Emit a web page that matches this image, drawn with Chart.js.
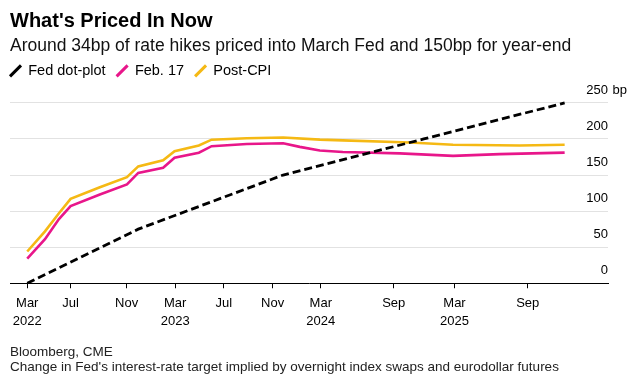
<!DOCTYPE html>
<html>
<head>
<meta charset="utf-8">
<script src="https://cdn.jsdelivr.net/npm/chart.js@4.4.1/dist/chart.umd.min.js"></script>
<style>
  html, body { margin: 0; padding: 0; background: #ffffff; }
  #wrap { width: 640px; height: 385px; }
  canvas { display: block; }
</style>
</head>
<body>
<div id="wrap"><canvas id="c" width="640" height="385"></canvas></div>
<script>
// ---- Data (x = months after Mar 2022) ----
const xTickPositions = [0, 3.57, 8.18, 12.18, 16.19, 20.2, 24.17, 30.18, 35.18, 41.21];
const xTickLabels = [["Mar", "2022"], ["Jul"], ["Nov"], ["Mar", "2023"], ["Jul"], ["Nov"], ["Mar", "2024"], ["Sep"], ["Mar", "2025"], ["Sep"]];
const yTickValues = [0, 50, 100, 150, 200, 250];

const seriesNames = ["Fed dot-plot", "Feb. 17", "Post-CPI"];

const dotPlotX = [0, 9.14, 21.07, 32.65, 44.25];
const dotPlotY = [0, 75, 150, 200, 250];

const feb17X = [0, 1.46, 2.61, 3.57, 5.98, 8.21, 9.14, 11.19, 12.13, 14.13, 15.18, 18.08, 21.07, 22.44, 24.09, 25.98, 30.67, 35.06, 38.9, 44.25];
const feb17Y = [34, 61, 89, 107, 123, 137, 153, 160, 174, 181, 190, 193, 194, 189, 184, 182, 180, 176.5, 179, 181];

const postCpiX = [0, 1.46, 2.61, 3.57, 5.98, 8.21, 9.14, 11.19, 12.13, 14.13, 15.18, 18.08, 21.07, 24.09, 25.98, 31.5, 35.06, 40.54, 44.25];
const postCpiY = [44, 72, 97, 117, 133, 147, 162, 170.5, 183, 191, 199, 201, 202, 199, 198, 195, 192, 191, 192];

const title = "What's Priced In Now";
const subtitle = "Around 34bp of rate hikes priced into March Fed and 150bp for year-end";
const footerLines = ["Bloomberg, CME", "Change in Fed's interest-rate target implied by overnight index swaps and eurodollar futures"];
const unitSuffix = " bp";

// ---- Styles ----
const FONT = "'Liberation Sans', Arial, Helvetica, sans-serif";
const colors = ["#000000", "#e8168a", "#f5b914"];

function pts(xs, ys) { return xs.map((x, i) => ({ x: x, y: ys[i] })); }

const footerPlugin = {
  id: 'footerAndUnit',
  afterLayout(chart) {
    // align first legend item with the left text margin
    const lg = chart.legend;
    if (lg) { lg.left -= lg.options.labels.padding; }
  },
  afterDraw(chart) {
    const ctx = chart.ctx;
    ctx.save();
    // unit suffix after the top y tick label
    const ys = chart.scales.y;
    const yPix = ys.getPixelForValue(yTickValues[yTickValues.length - 1]) + ys.options.ticks.labelOffset;
    ctx.font = "13px " + FONT;
    ctx.fillStyle = "#000";
    ctx.textAlign = "left";
    ctx.textBaseline = "middle";
    ctx.fillText(unitSuffix, ys.left + 1, yPix);
    // footer
    ctx.font = "13.5px " + FONT;
    ctx.fillStyle = "#222";
    ctx.textBaseline = "alphabetic";
    ctx.fillText(footerLines[0], 10, 355.7);
    ctx.fillText(footerLines[1], 10, 370.7);
    ctx.restore();
  }
};

new Chart(document.getElementById('c'), {
  type: 'line',
  data: {
    datasets: [
      { label: seriesNames[0], data: pts(dotPlotX, dotPlotY), borderColor: colors[0], borderWidth: 2.8, borderDash: [8, 4], pointRadius: 0, tension: 0, fill: false },
      { label: seriesNames[1], data: pts(feb17X, feb17Y), borderColor: colors[1], borderWidth: 2.6, pointRadius: 0, tension: 0, fill: false },
      { label: seriesNames[2], data: pts(postCpiX, postCpiY), borderColor: colors[2], borderWidth: 2.6, pointRadius: 0, tension: 0, fill: false }
    ]
  },
  options: {
    responsive: false,
    animation: false,
    devicePixelRatio: 1,
    layout: { padding: { left: 10, right: 32, top: 0, bottom: 48.5 } },
    plugins: {
      title: {
        display: true, text: title, align: 'start', color: '#000',
        font: { family: FONT, size: 20, weight: 'bold', lineHeight: 1.2 },
        padding: { top: 9.4, bottom: 0 }
      },
      subtitle: {
        display: true, text: subtitle, align: 'start', color: '#111',
        font: { family: FONT, size: 17.5, weight: 'normal', lineHeight: 0.7 },
        padding: { top: 7, bottom: 0 }
      },
      legend: {
        display: true, position: 'top', align: 'start',
        labels: {
          usePointStyle: true, boxWidth: 11, boxHeight: 11, padding: 11, color: '#000',
          font: { family: FONT, size: 14.5 },
          generateLabels: (chart) => chart.data.datasets.map((ds, i) => ({
            text: ds.label, fillStyle: ds.borderColor, strokeStyle: ds.borderColor,
            lineWidth: 3, pointStyle: 'line', rotation: -45, lineDash: [], hidden: false, datasetIndex: i
          }))
        }
      },
      tooltip: { enabled: false }
    },
    scales: {
      x: {
        type: 'linear', min: -1.42, max: 47.82,
        afterBuildTicks: (scale) => { scale.ticks = xTickPositions.map(v => ({ value: v })); },
        ticks: {
          autoSkip: false, maxRotation: 0, minRotation: 0, padding: 6.7, color: '#000',
          font: { family: FONT, size: 13, lineHeight: 1.34 },
          callback: (value, index) => xTickLabels[index]
        },
        grid: { display: true, drawOnChartArea: false, drawTicks: true, tickLength: 5, color: '#000', lineWidth: 1 },
        border: { display: true, color: '#000', width: 1 }
      },
      y: {
        type: 'linear', position: 'right', min: 0, max: 270.4,
        afterBuildTicks: (scale) => { scale.ticks = yTickValues.map(v => ({ value: v })); },
        ticks: {
          mirror: true, padding: 0, labelOffset: -12.5, color: '#000',
          font: { family: FONT, size: 13 },
          callback: (v) => String(v)
        },
        grid: { color: '#e2e2e2', lineWidth: 1, drawTicks: false },
        border: { display: false }
      }
    }
  },
  plugins: [footerPlugin]
});
</script>
</body>
</html>
